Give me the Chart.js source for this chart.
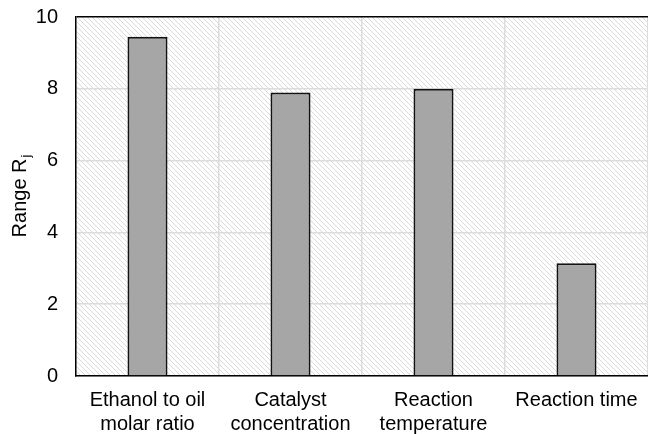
<!DOCTYPE html>
<html>
<head>
<meta charset="utf-8">
<script src="https://cdn.jsdelivr.net/npm/chart.js@4/dist/chart.umd.min.js"></script>
<style>
  html, body { margin: 0; padding: 0; background: #fff; }
  #wrap { width: 648px; height: 434px; }
</style>
</head>
<body>
<div id="wrap"><canvas id="chart" width="648" height="434"></canvas></div>
<script>
const categories = [['Ethanol to oil', 'molar ratio'], ['Catalyst', 'concentration'], ['Reaction', 'temperature'], 'Reaction time'];
const rangeValues = [9.45, 7.9, 8.0, 3.14];
const yTicks = [0, 2, 4, 6, 8, 10];

const FONT = 'Liberation Sans, Arial, sans-serif';

// fond hachure diagonal
function makeHatch() {
    const c = document.createElement('canvas');
    c.width = 5; c.height = 5;
    const g = c.getContext('2d');
    g.strokeStyle = '#dadada';
    g.lineWidth = 1;
    g.beginPath();
    g.moveTo(-1, -1); g.lineTo(6, 6);
    g.moveTo(-1, 4); g.lineTo(1, 6);
    g.moveTo(4, -1); g.lineTo(6, 1);
    g.stroke();
    return g.createPattern(c, 'repeat');
}

const hatchPlugin = {
    id: 'hatch',
    beforeDraw(chart) {
        const a = chart.chartArea;
        const ctx = chart.ctx;
        ctx.save();
        ctx.fillStyle = makeHatch();
        ctx.fillRect(a.left, a.top, a.right - a.left, a.bottom - a.top);
        ctx.restore();
    }
};

// titre axe y avec indice
const yTitlePlugin = {
    id: 'yTitle',
    afterDraw(chart) {
        const a = chart.chartArea;
        const ctx = chart.ctx;
        ctx.save();
        ctx.translate(26, (a.top + a.bottom) / 2);
        ctx.rotate(-Math.PI / 2);
        ctx.fillStyle = '#000';
        ctx.textBaseline = 'alphabetic';
        const main = 'Range R';
        ctx.font = '20px ' + FONT;
        const w1 = ctx.measureText(main).width;
        ctx.font = '13px ' + FONT;
        const w2 = ctx.measureText('j').width;
        const x0 = -(w1 + w2) / 2;
        ctx.font = '20px ' + FONT;
        ctx.fillText(main, x0, 0);
        ctx.font = '13px ' + FONT;
        ctx.fillText('j', x0 + w1 + 1, 4);
        ctx.restore();
    }
};

const ctx = document.getElementById('chart').getContext('2d');
new Chart(ctx, {
    type: 'bar',
    data: {
        labels: categories,
        datasets: [{
            label: 'Range Rj',
            data: rangeValues,
            backgroundColor: '#a6a6a6',
            borderColor: '#111',
            borderWidth: 2,
            barPercentage: 0.28,
            categoryPercentage: 1
        }]
    },
    options: {
        responsive: false,
        animation: false,
        layout: { padding: { top: 17, right: 0, left: 0, bottom: 0 } },
        plugins: {
            legend: { display: false },
            tooltip: { enabled: false }
        },
        scales: {
            x: {
                grid: { color: '#dcdcdc', lineWidth: 1.5, drawTicks: false, offset: true },
                border: { color: '#000', width: 1.5 },
                ticks: { color: '#000', font: { family: FONT, size: 20 }, padding: 12, maxRotation: 0 },
                afterFit(scale) { scale.height = 58; scale.paddingLeft = 0; scale.paddingRight = 0; }
            },
            y: {
                min: 0,
                max: 10,
                afterBuildTicks(scale) { scale.ticks = yTicks.map(v => ({ value: v })); },
                grid: {
                    color: c => (c.tick && c.tick.value === 10) ? '#000' : '#dcdcdc',
                    lineWidth: 1.5,
                    drawTicks: false
                },
                border: { color: '#000', width: 1.5 },
                ticks: { color: '#000', font: { family: FONT, size: 20 }, padding: 18 },
                afterFit(scale) { scale.width = 76; scale.paddingTop = 0; scale.paddingBottom = 0; }
            }
        }
    },
    plugins: [hatchPlugin, yTitlePlugin]
});
</script>
</body>
</html>
